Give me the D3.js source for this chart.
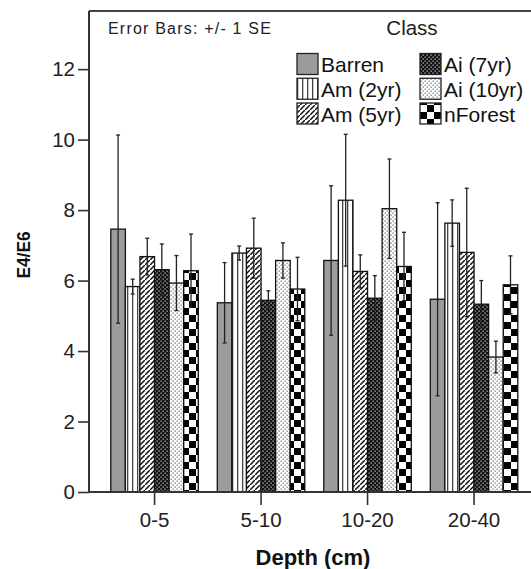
<!DOCTYPE html>
<html><head><meta charset="utf-8">
<script src="https://cdn.jsdelivr.net/npm/d3@7"></script>
<style>
html,body{margin:0;padding:0;background:#fff;}
svg{display:block;font-family:Arial,"Liberation Sans",sans-serif;}
</style></head>
<body>
<svg id="chart" width="531" height="569"></svg>
<script>
const depths = ["0-5", "5-10", "10-20", "20-40"];
const classes = ["Barren", "Am (2yr)", "Am (5yr)", "Ai (7yr)", "Ai (10yr)", "nForest"];
const barren   = [7.46, 5.37, 6.57, 5.47];
const am2      = [5.83, 6.78, 8.28, 7.63];
const am5      = [6.68, 6.92, 6.26, 6.80];
const ai7      = [6.31, 5.44, 5.50, 5.33];
const ai10     = [5.93, 6.57, 8.04, 3.83];
const nforest  = [6.28, 5.76, 6.40, 5.88];
const seBarren  = [2.67, 1.14, 2.12, 2.74];
const seAm2     = [0.21, 0.20, 1.87, 0.66];
const seAm5     = [0.52, 0.85, 0.47, 1.82];
const seAi7     = [0.73, 0.27, 0.64, 0.67];
const seAi10    = [0.78, 0.50, 1.41, 0.45];
const seNforest = [1.04, 0.90, 0.97, 0.82];
const yTicks = [0, 2, 4, 6, 8, 10, 12];

const means = [barren, am2, am5, ai7, ai10, nforest];
const ses = [seBarren, seAm2, seAm5, seAi7, seAi10, seNforest];
const patIds = ["pBarren", "pAm2", "pAm5", "pAi7", "pAi10", "pNf"];

const svg = d3.select("#chart");
const defs = svg.append("defs");

// patterns
let p = defs.append("pattern").attr("id","pBarren").attr("patternUnits","userSpaceOnUse").attr("width",4).attr("height",4);
p.append("rect").attr("width",4).attr("height",4).attr("fill","#9c9c9c");

p = defs.append("pattern").attr("id","pAm2").attr("patternUnits","userSpaceOnUse").attr("width",5).attr("height",5);
p.append("rect").attr("width",5).attr("height",5).attr("fill","#fff");
p.append("rect").attr("x",2).attr("width",1.3).attr("height",5).attr("fill","#444");

p = defs.append("pattern").attr("id","pAm5").attr("patternUnits","userSpaceOnUse").attr("width",5).attr("height",5);
p.append("rect").attr("width",5).attr("height",5).attr("fill","#fff");
p.append("path").attr("d","M-1,6 L6,-1 M-2,1 L1,-2 M4,7 L7,4").attr("stroke","#111").attr("stroke-width",1.5);

p = defs.append("pattern").attr("id","pAi7").attr("patternUnits","userSpaceOnUse").attr("width",4).attr("height",4);
p.append("rect").attr("width",4).attr("height",4).attr("fill","#111");
p.append("rect").attr("x",0.5).attr("y",0.5).attr("width",1.2).attr("height",1.2).attr("fill","#ddd");
p.append("rect").attr("x",2.5).attr("y",2.5).attr("width",1.2).attr("height",1.2).attr("fill","#ddd");

p = defs.append("pattern").attr("id","pAi10").attr("patternUnits","userSpaceOnUse").attr("width",4).attr("height",4);
p.append("rect").attr("width",4).attr("height",4).attr("fill","#fff");
p.append("rect").attr("x",0.5).attr("y",0.5).attr("width",1.3).attr("height",1.3).attr("fill","#777");
p.append("rect").attr("x",2.5).attr("y",2.5).attr("width",1.3).attr("height",1.3).attr("fill","#777");

p = defs.append("pattern").attr("id","pNf").attr("patternUnits","userSpaceOnUse").attr("width",14).attr("height",14);
p.append("rect").attr("width",14).attr("height",14).attr("fill","#fff");
p.append("rect").attr("width",7).attr("height",7).attr("fill","#000");
p.append("rect").attr("x",7).attr("y",7).attr("width",7).attr("height",7).attr("fill","#000");

// scales
const x0 = d3.scaleBand().domain(depths).range([101.3, 527.3]).padding(0);
const x1 = d3.scaleBand().domain(classes).range([0, x0.bandwidth()]).paddingInner(0).paddingOuter(0.652);
const y = d3.scaleLinear().domain([0, 13.65]).range([492, 11]);

// frame
svg.append("line").attr("x1",89).attr("x2",540).attr("y1",11).attr("y2",11).attr("stroke","#444").attr("stroke-width",2);

// bars
const data = [];
depths.forEach((d, i) => classes.forEach((c, j) => data.push({d, c, j, v: means[j][i], se: ses[j][i]})));

const g = svg.append("g");
g.selectAll("rect.bar").data(data).join("rect").attr("class","bar")
  .attr("x", d => x0(d.d) + x1(d.c))
  .attr("y", d => y(d.v))
  .attr("width", x1.bandwidth())
  .attr("height", d => y(0) - y(d.v))
  .attr("fill", d => `url(#${patIds[d.j]})`)
  .attr("stroke","#111").attr("stroke-width",1.3);

// error bars
const eg = svg.append("g").attr("stroke","#222").attr("stroke-width",1.3);
data.forEach(d => {
  const cx = x0(d.d) + x1(d.c) + x1.bandwidth()/2;
  const yt = y(d.v + d.se), yb = y(d.v - d.se);
  eg.append("line").attr("x1",cx).attr("x2",cx).attr("y1",yt).attr("y2",yb);
  eg.append("line").attr("x1",cx-2).attr("x2",cx+2).attr("y1",yt).attr("y2",yt);
  eg.append("line").attr("x1",cx-2).attr("x2",cx+2).attr("y1",yb).attr("y2",yb);
});

// axes
const yAxis = svg.append("g").attr("transform","translate(89,0)")
  .call(d3.axisLeft(y).tickValues(yTicks).tickSize(11).tickPadding(3).tickSizeOuter(0));
yAxis.select(".domain").attr("stroke","#333").attr("stroke-width",2).attr("d","M0,11V492");
yAxis.selectAll(".tick line").attr("stroke","#333").attr("stroke-width",1.6);
yAxis.selectAll("text").attr("font-size",20.5).attr("fill","#222").attr("font-family","Arial, 'Liberation Sans', sans-serif");

const xAxis = svg.append("g").attr("transform","translate(0,492)")
  .call(d3.axisBottom(x0).tickSize(13).tickPadding(7).tickSizeOuter(0));
xAxis.select(".domain").attr("stroke","#333").attr("stroke-width",2).attr("d","M89,0H540");
xAxis.selectAll(".tick line").attr("stroke","#333").attr("stroke-width",1.6);
xAxis.selectAll("text").attr("font-size",20.5).attr("fill","#222").attr("font-family","Arial, 'Liberation Sans', sans-serif");

// axis titles
svg.append("text").attr("x",313).attr("y",565).attr("text-anchor","middle")
  .attr("font-size",22).attr("font-weight","bold").attr("fill","#111").text("Depth (cm)");
svg.append("text").attr("transform","translate(30,255) rotate(-90)").attr("text-anchor","middle")
  .attr("font-size",19).attr("font-weight","bold").attr("fill","#111")
  .attr("textLength",47).attr("lengthAdjust","spacingAndGlyphs").text("E4/E6");

// annotations
svg.append("text").attr("x",108).attr("y",34).attr("font-size",16).attr("letter-spacing",1.2)
  .attr("fill","#222").text("Error Bars: +/- 1 SE");
svg.append("text").attr("x",412).attr("y",35).attr("text-anchor","middle").attr("font-size",20.5)
  .attr("fill","#222").text("Class");

// legend
const lg = svg.append("g");
classes.forEach((c, j) => {
  const col = Math.floor(j / 3), row = j % 3;
  const lx = col === 0 ? 297 : 420;
  const ly = 53.5 + row * 24.75;
  lg.append("rect").attr("x",lx).attr("y",ly).attr("width",21).attr("height",21)
    .attr("fill",`url(#${patIds[j]})`).attr("stroke","#222").attr("stroke-width",1.3);
  lg.append("text").attr("x",lx+24).attr("y",ly+18.5).attr("font-size",21).attr("fill","#111").text(c);
});
</script>
</body></html>
